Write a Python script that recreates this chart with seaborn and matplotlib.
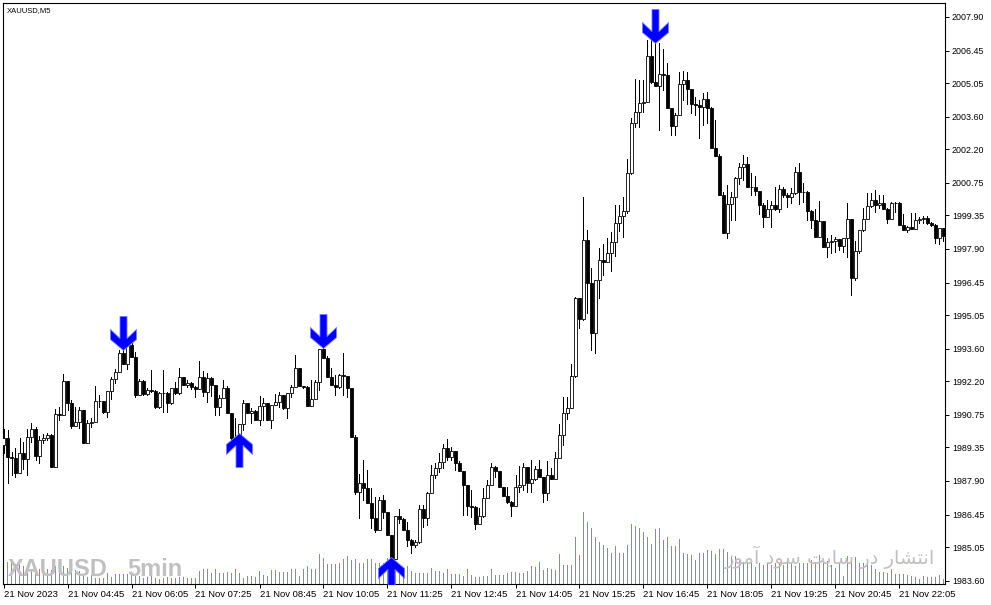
import numpy as np
import matplotlib
matplotlib.use("Agg")
import matplotlib.pyplot as plt
from matplotlib.path import Path
from matplotlib.markers import MarkerStyle
import seaborn as sns

sns.set_style("white")
plt.rcParams['font.family'] = ['Liberation Sans', 'DejaVu Sans']

# XAUUSD M5, 21 Nov 2023, one bar every 5 minutes
first_open = 1989.45
closes = [
    1989.76, 1988.94, 1988.90, 1988.24, 1989.11, 1988.85, 1989.80, 1990.14, 1988.98, 1989.67, 1989.76, 1989.88, 1988.50, 1990.79, 1990.74, 1992.21,
    1991.26, 1990.27, 1990.44, 1990.96, 1989.54, 1990.40, 1990.44, 1991.35, 1991.35, 1990.87, 1991.78, 1992.29, 1992.59, 1993.42, 1992.94, 1993.76,
    1993.24, 1991.60, 1992.21, 1991.65, 1991.82, 1991.78, 1991.09, 1991.69, 1991.69, 1991.26, 1991.91, 1991.69, 1992.38, 1992.03, 1992.12, 1991.95,
    1991.86, 1992.38, 1991.73, 1992.34, 1992.03, 1991.09, 1991.47, 1991.91, 1990.83, 1989.76, 1989.71, 1990.36, 1991.26, 1990.83, 1990.92, 1990.53,
    1991.13, 1991.26, 1990.53, 1991.17, 1991.30, 1991.60, 1991.05, 1991.69, 1991.95, 1992.77, 1991.99, 1991.95, 1991.13, 1991.43, 1992.16, 1993.59,
    1993.20, 1992.38, 1992.03, 1991.95, 1992.46, 1992.42, 1991.91, 1989.80, 1987.42, 1987.81, 1987.60, 1986.95, 1986.32, 1985.79, 1987.08, 1986.56,
    1985.57, 1984.54, 1986.39, 1986.26, 1985.79, 1985.36, 1985.14, 1985.27, 1986.69, 1986.31, 1987.38, 1988.15, 1988.46, 1988.71, 1989.33, 1988.94,
    1989.20, 1988.67, 1988.33, 1987.73, 1986.82, 1986.78, 1986.05, 1986.39, 1987.17, 1987.73, 1988.50, 1988.33, 1987.64, 1987.25, 1986.99, 1986.82,
    1987.64, 1987.73, 1988.50, 1987.81, 1987.98, 1988.41, 1988.07, 1987.38, 1988.15, 1987.98, 1988.90, 1989.88, 1990.83, 1991.05, 1992.42, 1995.79,
    1994.88, 1998.29, 1996.43, 1994.28, 1996.56, 1997.42, 1997.33, 1997.73, 1998.20, 1999.02, 1999.32, 1999.54, 2001.17, 2003.33, 2003.80, 2004.19,
    2004.23, 2006.21, 2005.09, 2004.92, 2005.44, 2005.39, 2003.97, 2003.20, 2003.67, 2005.01, 2005.18, 2004.79, 2004.15, 2004.10, 2004.02, 2004.36,
    2003.97, 2002.26, 2001.91, 2000.23, 1998.59, 1999.84, 2000.14, 2000.96, 2001.43, 2001.56, 2000.57, 2000.57, 2000.40, 1999.80, 1999.28, 1999.63,
    1999.80, 1999.63, 2000.49, 2000.23, 2000.14, 2000.31, 2001.21, 2000.36, 2000.36, 1999.54, 1999.15, 1998.42, 1999.11, 1997.99, 1998.20, 1998.25,
    1998.33, 1998.03, 1998.38, 1999.19, 1996.65, 1997.82, 1998.72, 1999.19, 1999.75, 2000.01, 1999.80, 1999.88, 1999.63, 1999.19, 1999.88, 1999.88,
    1998.94, 1998.72, 1998.85, 1998.76, 1999.15, 1999.19, 1999.23, 1999.02, 1998.94, 1998.38, 1998.81, 1998.46,
]
highs = [
    1990.14, 1990.10, 1989.15, 1989.33, 1989.76, 1989.58, 1990.14, 1990.40, 1990.23, 1989.84, 1989.93, 1989.97, 1989.93, 1991.00, 1991.09, 1992.51,
    1992.21, 1991.39, 1991.09, 1991.09, 1990.96, 1990.53, 1990.62, 1991.99, 1991.60, 1991.35, 1991.78, 1992.38, 1992.72, 1993.55, 1994.02, 1993.85,
    1993.85, 1993.46, 1992.29, 1992.25, 1991.91, 1992.68, 1991.82, 1991.73, 1992.68, 1991.73, 1991.91, 1992.16, 1992.77, 1992.38, 1992.25, 1992.16,
    1991.99, 1993.07, 1992.64, 1992.55, 1992.38, 1992.03, 1991.60, 1992.25, 1991.99, 1990.83, 1990.62, 1990.36, 1991.39, 1991.26, 1991.05, 1990.96,
    1991.56, 1991.47, 1991.26, 1991.17, 1991.65, 1991.73, 1991.60, 1991.69, 1992.03, 1993.33, 1992.77, 1991.99, 1991.99, 1992.25, 1992.25, 1993.59,
    1993.76, 1993.29, 1992.77, 1992.46, 1992.51, 1993.42, 1992.42, 1991.91, 1989.88, 1988.20, 1988.80, 1988.37, 1987.60, 1987.21, 1987.21, 1987.29,
    1986.56, 1985.57, 1986.39, 1986.69, 1986.31, 1986.13, 1985.40, 1985.36, 1986.86, 1986.86, 1987.42, 1988.59, 1988.67, 1989.11, 1989.50, 1989.71,
    1989.37, 1989.20, 1988.76, 1988.33, 1987.73, 1987.51, 1986.82, 1986.73, 1987.60, 1987.94, 1988.67, 1988.54, 1988.33, 1987.64, 1987.64, 1987.04,
    1988.15, 1988.54, 1988.67, 1988.50, 1988.80, 1988.54, 1988.80, 1988.07, 1988.76, 1988.46, 1989.15, 1990.36, 1991.52, 1991.52, 1992.94, 1995.83,
    1995.79, 2000.14, 1998.72, 1997.08, 1996.56, 1997.94, 1998.12, 1998.38, 1998.63, 1999.80, 1999.80, 2000.14, 2001.78, 2003.55, 2005.22, 2005.18,
    2005.18, 2006.91, 2007.12, 2006.82, 2006.78, 2006.52, 2005.91, 2003.97, 2003.76, 2005.52, 2005.57, 2005.52, 2004.79, 2004.45, 2004.32, 2004.62,
    2004.66, 2004.02, 2003.46, 2001.99, 2000.36, 2000.66, 2000.36, 2001.00, 2001.60, 2001.95, 2001.86, 2001.17, 2001.04, 2000.40, 1999.88, 2000.01,
    1999.97, 2000.57, 2000.66, 2000.57, 2000.31, 2000.53, 2001.43, 2001.60, 2000.74, 2000.40, 1999.58, 1999.63, 1999.97, 1999.11, 1998.38, 1998.51,
    1998.42, 1998.33, 1998.38, 1999.88, 1999.19, 1998.25, 1998.72, 1999.66, 2000.31, 2000.31, 2000.44, 2000.23, 2000.23, 1999.66, 1999.93, 1999.93,
    1999.93, 1999.41, 1998.89, 1999.45, 1999.45, 1999.28, 1999.32, 1999.32, 1999.06, 1998.98, 1998.81, 1998.81,
]
lows = [
    1989.11, 1987.81, 1988.15, 1988.07, 1988.24, 1988.41, 1988.15, 1989.58, 1988.80, 1988.67, 1989.54, 1989.67, 1988.50, 1988.50, 1990.53, 1990.74,
    1990.96, 1990.19, 1990.27, 1990.19, 1989.54, 1989.54, 1990.23, 1990.44, 1991.09, 1990.83, 1990.66, 1991.43, 1992.12, 1992.59, 1992.94, 1992.72,
    1993.24, 1991.52, 1991.60, 1991.60, 1991.60, 1991.73, 1991.05, 1991.05, 1990.87, 1990.87, 1991.22, 1991.65, 1991.65, 1992.03, 1991.95, 1991.86,
    1991.52, 1991.86, 1991.56, 1991.30, 1991.56, 1990.74, 1990.74, 1991.47, 1990.83, 1989.67, 1989.54, 1989.41, 1990.10, 1990.83, 1990.40, 1990.53,
    1990.31, 1990.53, 1990.53, 1990.19, 1991.17, 1991.09, 1991.00, 1990.62, 1991.52, 1991.95, 1991.99, 1991.91, 1991.13, 1991.13, 1991.43, 1991.82,
    1993.20, 1992.38, 1992.03, 1991.60, 1991.91, 1991.60, 1991.52, 1989.80, 1987.34, 1986.32, 1987.08, 1986.95, 1985.88, 1985.70, 1985.79, 1986.32,
    1985.57, 1984.40, 1984.54, 1986.09, 1985.79, 1985.10, 1984.80, 1985.06, 1985.23, 1985.92, 1986.01, 1987.38, 1988.03, 1988.28, 1988.46, 1988.80,
    1988.80, 1988.37, 1988.33, 1986.43, 1986.43, 1986.35, 1985.84, 1986.05, 1986.35, 1987.17, 1987.73, 1988.07, 1987.64, 1987.25, 1986.95, 1986.39,
    1986.82, 1987.42, 1987.51, 1987.42, 1987.42, 1987.94, 1988.07, 1986.99, 1987.08, 1987.98, 1987.98, 1989.02, 1989.45, 1990.57, 1991.05, 1992.38,
    1994.50, 1994.84, 1995.14, 1993.55, 1993.42, 1995.79, 1996.77, 1997.33, 1996.95, 1997.60, 1998.68, 1998.42, 1999.45, 2001.13, 2003.16, 2003.16,
    2003.80, 2004.28, 2005.05, 2004.92, 2003.03, 2004.75, 2003.97, 2002.81, 2002.81, 2003.67, 2004.32, 2004.15, 2003.76, 2003.67, 2002.69, 2003.24,
    2003.33, 2002.26, 2001.91, 2000.23, 1998.59, 1998.38, 1999.15, 1999.15, 2000.70, 2000.87, 2000.57, 2000.23, 2000.23, 1999.41, 1998.85, 1999.28,
    1998.85, 1999.58, 1999.49, 2000.14, 1999.71, 1999.88, 2000.27, 1999.84, 1999.93, 1999.15, 1998.81, 1998.42, 1998.42, 1997.99, 1997.55, 1997.73,
    1997.77, 1997.86, 1997.77, 1997.55, 1995.92, 1996.56, 1997.73, 1998.68, 1999.19, 1999.71, 1999.49, 1999.66, 1999.63, 1999.02, 1999.19, 1999.49,
    1998.94, 1998.72, 1998.63, 1998.76, 1998.76, 1999.02, 1999.02, 1998.98, 1998.89, 1998.16, 1998.12, 1998.25,
]
volumes = [
    28, 22, 22, 20, 21, 18, 18, 15, 15, 15, 12, 15, 14, 18, 14, 18,
    16, 15, 14, 13, 8, 7, 9, 6, 6, 6, 11, 7, 10, 10, 10, 10,
    10, 8, 8, 6, 7, 8, 6, 5, 6, 7, 6, 6, 7, 7, 6, 6,
    6, 13, 15, 15, 11, 15, 11, 11, 12, 11, 15, 11, 6, 8, 8, 7,
    13, 9, 8, 14, 14, 12, 12, 12, 15, 15, 8, 15, 18, 15, 15, 30,
    26, 20, 20, 20, 21, 25, 28, 24, 25, 21, 21, 25, 25, 21, 21, 21,
    26, 27, 21, 18, 14, 18, 13, 11, 11, 11, 11, 16, 13, 13, 11, 15,
    10, 10, 10, 8, 15, 9, 7, 7, 8, 8, 15, 9, 9, 9, 11, 12,
    12, 11, 11, 13, 18, 17, 22, 14, 16, 15, 14, 30, 19, 19, 19, 47,
    29, 72, 62, 56, 47, 42, 39, 36, 31, 38, 31, 31, 39, 60, 58, 56,
    52, 47, 40, 55, 56, 44, 47, 38, 38, 45, 31, 30, 29, 24, 31, 31,
    34, 33, 30, 35, 35, 32, 28, 28, 25, 22, 22, 21, 17, 21, 19, 21,
    19, 21, 20, 19, 22, 21, 18, 21, 21, 21, 24, 22, 29, 22, 23, 19,
    16, 21, 8, 28, 26, 27, 21, 21, 22, 19, 15, 12, 12, 11, 15, 10,
    10, 10, 9, 8, 7, 5, 8, 7, 7, 7, 9, 5,
]

# signal arrows: bar index and price of the arrow tip
sell_bars = [30, 80, 163]
sell_tips = [1993.55, 1993.63, 2006.78]
buy_bars = [59, 97]
buy_tips = [1989.97, 1984.62]

price_ticks = [2007.90, 2006.45, 2005.05, 2003.60, 2002.20, 2000.75, 1999.35, 1997.90, 1996.45,
               1995.05, 1993.60, 1992.20, 1990.75, 1989.35, 1987.90, 1986.45, 1985.05, 1983.60]
time_labels = ["21 Nov 2023", "21 Nov 04:45", "21 Nov 06:05", "21 Nov 07:25", "21 Nov 08:45",
               "21 Nov 10:05", "21 Nov 11:25", "21 Nov 12:45", "21 Nov 14:05", "21 Nov 15:25",
               "21 Nov 16:45", "21 Nov 18:05", "21 Nov 19:25", "21 Nov 20:45", "21 Nov 22:05"]
label_every = 16

closes = np.array(closes)
opens = np.concatenate([[first_open], closes[:-1]])
highs = np.maximum(np.array(highs), np.maximum(opens, closes))
lows = np.minimum(np.array(lows), np.minimum(opens, closes))
idx = np.arange(len(closes))

fig = plt.figure(figsize=(9.91, 6.05), dpi=100, facecolor='white')
ax = fig.add_axes([3 / 991, 21 / 605, 942 / 991, 581 / 605])

# volume on its own hidden axis, sitting under the price axis
axv = ax.twinx()
axv.vlines(idx, 0, volumes, color='#33cc33', linewidth=0.5, antialiased=False, zorder=2)
axv.set_ylim(0, max(volumes) / 0.124)
axv.axis('off')
axv.set_zorder(0)
ax.set_zorder(1)
ax.patch.set_visible(False)

# watermarks (drawn over the volume)
ax.text(0.0053, 0.013, "XAUUSD", transform=ax.transAxes, fontsize=17, fontweight='bold',
        color='#c0c0c0', ha='left', va='baseline', zorder=1)
ax.text(0.1316, 0.013, "5min", transform=ax.transAxes, fontsize=17, fontweight='bold',
        color='#c0c0c0', ha='left', va='baseline', zorder=1)
fa_text = "\uFEAF\uFEEE\uFEE3\uFE81 \uFEA9\uFEEE\uFEB3 \uFE96\uFEF3\uFE8E\uFEB3 \uFEAD\uFEA9 \uFEAD\uFE8E\uFEB8\uFE98\uFEE7\uFE8D"
ax.text(0.878, 0.045, fa_text, transform=ax.transAxes, fontsize=14,
        family=['DejaVu Sans'], color='#c0c0c0', ha='center', va='center', zorder=1)

# candles
ax.vlines(idx, lows, highs, color='black', linewidth=0.5, antialiased=False, zorder=3)
up = closes >= opens
ax.bar(idx[up], closes[up] - opens[up], bottom=opens[up], width=0.55,
       facecolor='white', edgecolor='black', linewidth=0.6, zorder=4)
ax.bar(idx[~up], closes[~up] - opens[~up], bottom=opens[~up], width=0.55,
       facecolor='black', edgecolor='black', linewidth=0.6, zorder=4)

# arrow markers, tip at the origin
down_verts = [(0, 0), (13, 11), (13, 21), (3.5, 12), (3.5, 34), (-3.5, 34),
              (-3.5, 12), (-13, 21), (-13, 11), (0, 0)]
down_arrow = MarkerStyle(Path(down_verts, closed=True))
up_arrow = MarkerStyle(Path([(vx, -vy) for vx, vy in down_verts], closed=True))
sns.scatterplot(x=sell_bars, y=sell_tips, marker=down_arrow, s=2400, color='#0000ff',
                edgecolor='#7a7aff', linewidth=0.6, ax=ax, zorder=5)
sns.scatterplot(x=buy_bars, y=buy_tips, marker=up_arrow, s=2400, color='#0000ff',
                edgecolor='#7a7aff', linewidth=0.6, ax=ax, zorder=5)

ax.set_xlim(-0.125, 235.375)
ax.set_ylim(1983.46, 2008.50)

ax.yaxis.tick_right()
ax.set_yticks(price_ticks)
ax.set_yticklabels([f"{p:.2f}" for p in price_ticks])
ax.set_xticks(idx[::label_every][:len(time_labels)])
ax.set_xticklabels(time_labels)
plt.setp(ax.get_xticklabels(), ha='left')
ax.tick_params(axis='y', which='both', right=True, left=False, direction='out', length=3,
               width=0.7, pad=2, labelsize=6.4, colors='black')
ax.tick_params(axis='x', which='both', bottom=True, direction='out', length=3,
               width=0.7, pad=1.5, labelsize=6.8, colors='black')
ax.set_xlabel("")
ax.set_ylabel("")
for sp in ax.spines.values():
    sp.set_color('black')
    sp.set_linewidth(0.8)

ax.text(0.0042, 0.993, "XAUUSD,M5", transform=ax.transAxes, fontsize=5.5,
        color='black', ha='left', va='top', zorder=6)

plt.savefig('out.png', dpi=100)
